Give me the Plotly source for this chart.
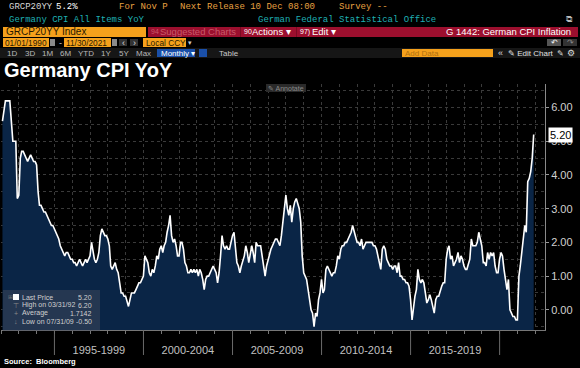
import pandas as pd
import plotly.graph_objects as go

# ---------------- data (Germany CPI YoY, monthly, %) ----------------
cpi_1992 = [5.6, 5.9, 6.2, 6.2, 6.2, 6.2, 5.6, 5.0, 5.0, 5.0, 3.3, 3.4]
cpi_1993 = [4.5, 4.7, 4.7, 4.6, 4.5, 4.4, 4.5, 4.6, 4.5, 4.4, 4.4, 4.3]
cpi_1994 = [3.5, 3.1, 3.1, 3.0, 2.9, 2.9, 2.8, 2.7, 2.6, 2.5, 2.5, 2.4]
cpi_1995 = [2.3, 2.2, 2.1, 1.9, 1.8, 1.7, 1.6, 1.7, 1.7, 1.6, 1.5, 1.5]
cpi_1996 = [1.4, 1.4, 1.3, 1.4, 1.5, 1.4, 1.3, 1.4, 1.5, 1.4, 1.5, 1.6]
cpi_1997 = [2.0, 1.7, 1.5, 1.4, 1.5, 1.7, 2.2, 2.4, 2.3, 2.2, 2.2, 2.1]
cpi_1998 = [1.9, 1.3, 1.2, 1.3, 1.4, 1.2, 1.1, 0.8, 0.5, 0.5, 0.4, 0.4]
cpi_1999 = [0.2, 0.1, 0.3, 0.5, 0.5, 0.5, 0.6, 0.7, 0.8, 0.8, 0.9, 1.0]
cpi_2000 = [1.6, 1.5, 1.4, 1.1, 1.0, 1.2, 1.1, 1.3, 1.6, 1.5, 1.8, 1.9]
cpi_2001 = [1.7, 1.9, 2.0, 2.3, 2.5, 2.8, 2.2, 2.0, 2.1, 1.9, 1.6, 1.6]
cpi_2002 = [2.0, 2.0, 1.8, 1.4, 1.3, 1.1, 1.1, 1.2, 1.1, 1.2, 1.1, 1.2]
cpi_2003 = [1.0, 1.2, 1.1, 0.9, 0.6, 0.9, 1.0, 1.0, 1.1, 1.2, 1.3, 1.2]
cpi_2004 = [1.1, 0.8, 1.1, 1.6, 2.2, 1.9, 1.8, 1.9, 1.8, 1.8, 2.0, 2.2]
cpi_2005 = [2.3, 1.8, 1.4, 1.3, 1.1, 1.3, 1.5, 1.6, 1.9, 1.7, 1.4, 1.6]
cpi_2006 = [1.9, 1.7, 1.4, 2.0, 1.9, 1.9, 1.9, 1.6, 1.3, 1.0, 1.3, 1.5]
cpi_2007 = [1.7, 1.8, 1.9, 2.0, 2.1, 2.1, 2.0, 1.9, 2.2, 2.6, 3.0, 3.4]
cpi_2008 = [3.0, 2.8, 3.1, 2.6, 3.0, 3.2, 3.3, 3.1, 3.0, 2.6, 1.6, 1.1]
cpi_2009 = [1.0, 0.9, 0.6, 0.3, 0.0, -0.1, -0.5, -0.1, -0.2, 0.3, 0.5, 0.9]
cpi_2010 = [0.5, 0.6, 1.2, 1.3, 1.2, 1.1, 1.0, 1.1, 1.1, 1.3, 1.6, 1.5]
cpi_2011 = [1.8, 1.9, 1.9, 2.0, 2.0, 2.1, 2.2, 2.3, 2.5, 2.3, 2.1, 2.0]
cpi_2012 = [2.0, 1.9, 2.1, 1.8, 1.9, 2.0, 2.0, 2.0, 2.0, 2.0, 1.9, 1.9]
cpi_2013 = [1.8, 1.6, 1.4, 1.2, 1.8, 1.9, 1.8, 1.5, 1.4, 1.3, 1.3, 1.2]
cpi_2014 = [1.3, 1.3, 1.1, 1.4, 1.0, 1.0, 0.9, 0.9, 0.8, 0.8, 0.7, 0.3]
cpi_2015 = [-0.3, 0.1, 0.4, 0.6, 1.2, 0.9, 0.8, 0.9, 0.8, 0.5, 0.2, 0.3]
cpi_2016 = [0.45, 0.3, 0.1, -0.1, 0.3, 0.4, 0.4, 0.6, 0.7, 0.8, 0.8, 1.5]
cpi_2017 = [1.8, 1.9, 1.5, 1.6, 1.3, 1.4, 1.5, 1.7, 1.4, 1.6, 1.5, 1.3]
cpi_2018 = [1.2, 1.2, 1.4, 1.5, 2.1, 1.9, 1.9, 1.9, 2.0, 2.3, 2.1, 1.9]
cpi_2019 = [1.4, 1.4, 1.3, 1.7, 1.5, 1.7, 1.6, 1.7, 1.3, 1.1, 1.1, 1.5]
cpi_2020 = [1.7, 1.6, 1.2, 0.9, 0.6, 0.9, 0.0, -0.1, -0.2, -0.2, -0.3, -0.3]
cpi_2021 = [1.0, 1.3, 1.7, 2.0, 2.5, 2.3, 3.8, 3.9, 4.1, 4.5, 5.2]

first_month_end = "1992-01-31"
period_labels = ["1995-1999", "2000-2004", "2005-2009", "2010-2014", "2015-2019"]
period_centers = ["1997-07-01", "2002-07-01", "2007-07-01", "2012-07-01", "2017-07-01"]
period_starts = ["1995-01-01", "2000-01-01", "2005-01-01", "2010-01-01", "2015-01-01", "2020-01-01"]
y_ticks = [0, 1, 2, 3, 4, 5, 6]
average_shown = 1.7142

values = (cpi_1992 + cpi_1993 + cpi_1994 + cpi_1995 + cpi_1996 + cpi_1997 + cpi_1998
          + cpi_1999 + cpi_2000 + cpi_2001 + cpi_2002 + cpi_2003 + cpi_2004 + cpi_2005
          + cpi_2006 + cpi_2007 + cpi_2008 + cpi_2009 + cpi_2010 + cpi_2011 + cpi_2012
          + cpi_2013 + cpi_2014 + cpi_2015 + cpi_2016 + cpi_2017 + cpi_2018 + cpi_2019
          + cpi_2020 + cpi_2021)
dates = pd.date_range(first_month_end, periods=len(values), freq=pd.offsets.MonthEnd())

# ---------------- geometry / style ----------------
W, H = 580, 368
L, R, T, B = 1, 35, 84, 38
PW, PH = W - L - R, H - T - B
Y_MIN, Y_MAX = -0.6, 6.7
X_RANGE = ["1992-01-01", "2022-07-20"]

ORANGE = "#f5a11c"
AMBER_TXT = "#e8a040"
TEAL = "#1fb0b4"
RED = "#9c0f2e"
FILL = "#0a2546"
GRID = "#3a3a3a"
MONO = "Liberation Mono, DejaVu Sans Mono, monospace"
SANS = "Liberation Sans, Arial, sans-serif"


def px(x):
    return (x - L) / PW


def py(y):
    return (H - B - y) / PH


fig = go.Figure()

# baseline at the axis floor so the area fills down to the plot bottom
fig.add_trace(go.Scatter(x=dates, y=[Y_MIN] * len(values), mode="lines",
                         line=dict(width=0, color=FILL), hoverinfo="skip", showlegend=False))
fig.add_trace(go.Scatter(x=dates, y=values, mode="lines", fill="tonexty", fillcolor=FILL,
                         line=dict(color="white", width=1.6), showlegend=False))

shapes = []
annotations = []


def rect(x0, y0, x1, y1, color, line=None):
    shapes.append(dict(type="rect", xref="paper", yref="paper", x0=px(x0), x1=px(x1),
                       y0=py(y1), y1=py(y0), fillcolor=color,
                       line=dict(width=1 if line else 0, color=line or color), layer="above"))


def text(x, y, s, color, size, font=MONO, anchor="left", bold=False):
    if bold:
        s = "<b>" + s + "</b>"
    annotations.append(dict(xref="paper", yref="paper", x=px(x), y=py(y), text=s,
                            showarrow=False, xanchor=anchor, yanchor="middle",
                            borderpad=0,
                            font=dict(color=color, size=size, family=font)))


# ---- header row 1
text(8, 7.5, "GRCP20YY", "#d8d8d8", 9)
text(55, 7.5, "5.2%", "#ffffff", 9)
text(118, 7.5, "For Nov P", AMBER_TXT, 9)
text(179, 7.5, "Next Release 10 Dec 08:00", AMBER_TXT, 9)
text(338, 7.5, "Survey --", AMBER_TXT, 9)
# ---- header row 2
text(8, 19.5, "Germany CPI All Items YoY", TEAL, 9)
text(257, 19.5, "German Federal Statistical Office", TEAL, 9)
text(569, 19, "⧉", "#bbbbbb", 9, font=SANS, anchor="center")
# ---- header row 3
rect(3, 27, 146, 37, ORANGE)
text(5, 32, "GRCP20YY Index", "#2a1a00", 10, font=SANS)
rect(148, 27, 578, 37, RED)
text(150, 32, "94", "#c85a6a", 7, font=SANS)
text(159, 32, "Suggested Charts", "#c85a6a", 9.5, font=SANS)
rect(240, 27, 241, 37, "#7a0a22")
text(243, 32, "90", "#ffffff", 7, font=SANS)
text(251, 32, "Actions ▾", "#ffffff", 9.5, font=SANS)
rect(296, 27, 297, 37, "#7a0a22")
text(299, 32, "97)", "#ffffff", 7, font=SANS)
text(311, 32, "Edit ▾", "#ffffff", 9.5, font=SANS)
text(572, 32, "G 1442: German CPI Inflation", "#ffffff", 9.5, font=SANS, anchor="right")
# ---- header row 4
rect(3, 38, 49, 47, ORANGE)
text(4, 42.5, "01/01/1990", "#2a1a00", 8.3, font=SANS)
rect(50, 39, 55, 46, "#8a8a8a")
text(60, 42.5, "-", "#cccccc", 9, font=SANS, anchor="center")
rect(64, 38, 111, 47, ORANGE)
text(65, 42.5, "11/30/2021", "#2a1a00", 8.3, font=SANS)
rect(112, 39, 117, 46, "#8a8a8a")
rect(119, 39, 127, 46, "#333333")
text(123, 42.5, "‹", "#dddddd", 9, font=SANS, anchor="center")
rect(130, 39, 138, 46, "#333333")
text(134, 42.5, "›", "#dddddd", 9, font=SANS, anchor="center")
rect(143, 38, 186, 47, ORANGE)
text(145, 42.5, "Local CCY", "#2a1a00", 8.3, font=SANS)
text(190, 42.5, "▾", "#cccccc", 7, font=SANS, anchor="center")
rect(547, 39, 561, 46, "#555555")
text(554, 42.5, "↶", "#eeeeee", 8, font=SANS, anchor="center")
rect(563, 39, 577, 46, "#333333")
text(570, 42.5, "↷", "#888888", 8, font=SANS, anchor="center")
# ---- header row 5
rect(0, 48, 580, 58, "#161616")
for lab, xx in zip(["1D", "3D", "1M", "6M", "YTD", "1Y", "5Y", "Max"],
                   [12, 29.5, 47, 65, 86, 106, 123.5, 143]):
    text(xx, 53, lab, "#b8b8b8", 8, font=SANS, anchor="center")
rect(157, 49, 195, 57, "#1a4fa8")
text(160, 53, "Monthly ▾", "#ffffff", 8, font=SANS)
rect(199, 49, 207, 57, "#1a4fa8")
text(229, 53, "Table", "#c8c8c8", 8, font=SANS, anchor="center")
rect(402, 49, 493, 57, ORANGE)
text(404, 53, "Add Data", "#b07010", 8, font=SANS)
text(500, 53, "«", "#dddddd", 9, font=SANS, anchor="center")
text(507, 53, "✎ Edit Chart", "#e0e0e0", 8, font=SANS)
text(560, 53, "✎", "#dddddd", 8, font=SANS, anchor="center")
text(571, 53, "⚙", "#dddddd", 9, font=SANS, anchor="center")

# ---- title
text(3, 70, "Germany CPI YoY", "#ffffff", 20, font=SANS, bold=True)

# ---- annotate button
rect(266, 84, 306, 92, "#2a2a2a")
text(286, 88, "✎ Annotate", "#8a8a8a", 7, font=SANS, anchor="center")

# ---- stats panel (bottom-left)
last_val = values[-1]
hi_idx = max(range(len(values)), key=lambda i: values[i])
lo_idx = min(range(len(values)), key=lambda i: values[i])
rect(3, 290, 100, 331, "rgba(70,78,95,0.45)")
rect(13, 294, 19, 300, "#ffffff")
text(10, 297, "⊞", "#777777", 6, font=SANS, anchor="center")
rows = [
    ("Last Price", f"{last_val:.2f}", 297),
    (f"High on {dates[hi_idx]:%m/%d/%y}", f"{values[hi_idx]:.2f}", 305),
    ("Average", f"{average_shown:.4f}", 313),
    (f"Low on {dates[lo_idx]:%m/%d/%y}", f"{values[lo_idx]:.2f}", 321),
]
for lab, val, yy in rows:
    text(21, yy, lab, "#d0d0d0", 7, font=SANS)
    text(93, yy, val, "#d0d0d0", 7, font=SANS, anchor="right")
for glyph, yy in [("⊤", 305), ("+", 313), ("↓", 321)]:
    text(16, yy, glyph, "#8a8a8a", 7, font=SANS, anchor="center")

# ---- source
text(3, 361, "Source:  Bloomberg", "#ffffff", 7.5, font=SANS, bold=True)

# ---- period separators below the x axis
for d in period_starts:
    shapes.append(dict(type="line", xref="x", yref="paper", x0=d, x1=d,
                       y0=0, y1=-25 / PH, line=dict(color="#6a6a6a", width=1)))

# ---- last value tag
annotations.append(dict(xref="paper", yref="y", x=1, y=last_val, text=f"{last_val:.2f}",
                        showarrow=False, xanchor="left", yanchor="middle", xshift=3,
                        bgcolor="#ffffff", borderpad=1,
                        font=dict(color="#000000", size=11, family=SANS)))

fig.update_layout(
    width=W, height=H,
    margin=dict(l=L, r=R, t=T, b=B),
    paper_bgcolor="#000000",
    plot_bgcolor="#000000",
    showlegend=False,
    shapes=shapes,
    annotations=annotations,
    xaxis=dict(
        type="date", range=X_RANGE,
        tickmode="array", tickvals=period_centers, ticktext=period_labels,
        ticks="", showgrid=False, zeroline=False,
        tickfont=dict(color="#c0c0c0", size=11, family=SANS),
        showline=True, linecolor="#777777", linewidth=1,
        ticklabelstandoff=10,
        minor=dict(tickmode="linear", tick0="1992-01-01", dtick="M12",
                   showgrid=True, gridcolor=GRID, griddash="dot", gridwidth=1,
                   ticks="outside", ticklen=3, tickcolor="#777777"),
    ),
    yaxis=dict(
        side="right", range=[Y_MIN, Y_MAX],
        tickmode="array", tickvals=y_ticks, tickformat=".2f",
        ticks="outside", ticklen=3, tickcolor="#999999",
        tickfont=dict(color="#d0d0d0", size=11, family=SANS),
        showgrid=True, gridcolor=GRID, griddash="dot", gridwidth=1,
        zeroline=False, showline=True, linecolor="#8a8a8a", linewidth=1,
        minor=dict(tickmode="linear", tick0=0.5, dtick=1, showgrid=True,
                   gridcolor=GRID, griddash="dot", gridwidth=1),
    ),
)

fig.write_html("out.html",
               config={"displayModeBar": False},
               post_script="document.body.style.margin='0px';document.body.style.overflow='hidden';")
